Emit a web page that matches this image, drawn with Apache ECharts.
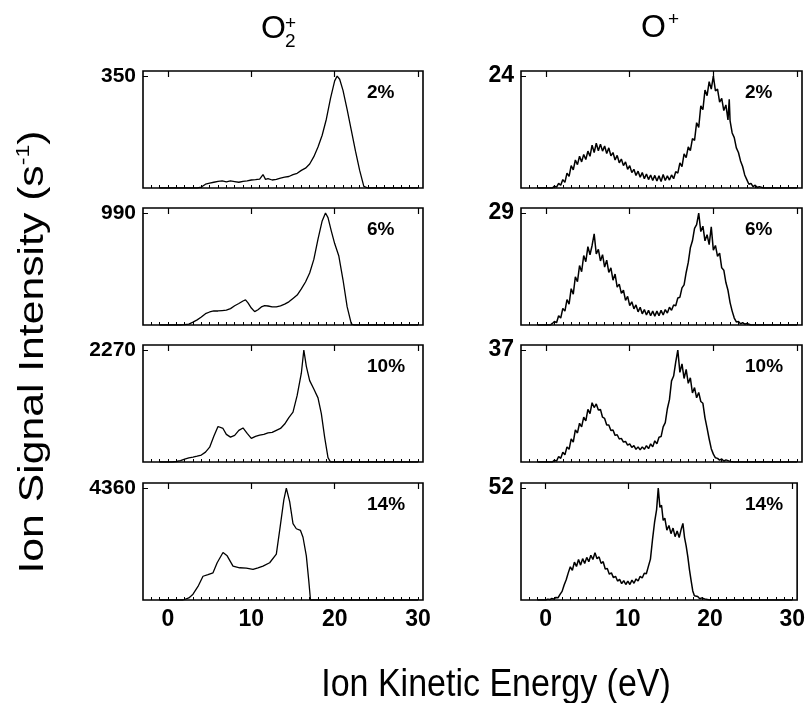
<!DOCTYPE html>
<html>
<head>
<meta charset="utf-8">
<title>Ion kinetic energy distributions</title>
<script src="https://cdn.jsdelivr.net/npm/echarts@6/dist/echarts.min.js"></script>
<style>
  html, body { margin: 0; padding: 0; background: #fff; }
  #chart { width: 808px; height: 703px; }
</style>
</head>
<body>
<div id="chart"></div>
<script>
// energy axis (eV) and labels
var energyMin = -3, energyMax = 30.6;
var energyTicks = [0, 10, 20, 30];
var percents = ['2%', '6%', '10%', '14%'];
var o2Max = [350, 990, 2270, 4360];   // O2+ full scale per panel
var oMax = [24, 29, 37, 52];          // O+ full scale per panel

// O2+ spectra, [energy, counts/s]
var o2_2 = [[-1,0],[3.5,0],[4,3],[4.5,12],[5,15],[5.5,18],[6,21],[6.5,22],[7,19],[7.5,22],[8,20],[8.5,18],[9,21],[9.5,22],[10,25],[10.5,26],[11,28],[11.4,42],[11.7,27],[12,29],[12.5,25],[13,27],[13.5,31],[14,34],[14.5,36],[15,42],[15.5,46],[16,55],[16.5,62],[17,75],[17.5,98],[18,128],[18.5,165],[19,215],[19.5,280],[20,335],[20.3,350],[20.6,340],[21,305],[21.5,245],[22,180],[22.5,115],[23,55],[23.5,5],[24,0],[30,0]];
var o2_6 = [[-1,0],[1.5,0],[2,3],[2.5,8],[3,25],[3.5,45],[4,70],[4.5,100],[5,115],[5.5,125],[6,124],[6.5,128],[7,132],[7.5,145],[8,170],[8.5,190],[9,212],[9.3,222],[9.6,195],[10,150],[10.4,118],[10.8,135],[11.2,160],[11.6,172],[12,168],[12.5,160],[13,160],[13.5,170],[14,185],[14.5,205],[15,235],[15.5,265],[16,320],[16.5,380],[17,460],[17.5,580],[18,760],[18.5,920],[18.9,990],[19.2,950],[19.6,830],[20,720],[20.5,610],[21,400],[21.5,160],[22,10],[22.3,0],[30,0]];
var o2_10 = [[-1,0],[0.5,0],[1,10],[1.5,30],[2,60],[2.5,85],[3,100],[3.5,118],[4,140],[4.5,200],[5,300],[5.5,520],[6,720],[6.2,750],[6.6,680],[7,560],[7.5,505],[8,540],[8.5,640],[9,690],[9.5,580],[10,480],[10.5,520],[11,545],[11.5,560],[12,590],[12.5,600],[13,640],[13.5,680],[14,770],[14.5,900],[15,1010],[15.5,1350],[16,1800],[16.3,2270],[16.6,1940],[17,1650],[17.5,1480],[18,1300],[18.4,980],[18.8,500],[19.2,90],[19.5,0],[30,0]];
var o2_14 = [[-1,0],[1.8,0],[2.5,80],[3,225],[3.6,528],[4.2,925],[4.8,990],[5.4,1060],[5.9,1450],[6.6,1850],[7.1,1720],[7.8,1320],[8.6,1255],[9.4,1240],[10.2,1190],[10.8,1250],[11.4,1320],[12.2,1450],[13,1784],[13.4,2708],[13.9,3898],[14.2,4360],[14.6,3831],[15,2973],[15.4,2775],[15.9,2708],[16.2,2444],[16.6,1718],[16.9,727],[17.1,0],[30,0]];

// O+ spectra, [energy, counts/s]
var o_2 = [[-1,0],[0.75,0],[1,0.4],[1.25,0.2],[1.5,1.0],[1.75,0.6],[2,1.8],[2.25,1.2],[2.5,3.2],[2.75,2.5],[3,4.8],[3.25,3.9],[3.5,6.0],[3.75,5.0],[4,6.8],[4.25,5.6],[4.5,7.2],[4.75,6.1],[5,7.9],[5.25,6.8],[5.5,9.2],[5.75,7.6],[6,9.6],[6.25,8.0],[6.5,9.4],[6.75,7.9],[7,9.0],[7.25,7.4],[7.5,8.6],[7.75,6.9],[8,7.6],[8.25,6.0],[8.5,7.0],[8.75,5.4],[9,6.2],[9.25,4.8],[9.5,5.6],[9.75,4.0],[10,4.8],[10.25,3.3],[10.5,4.0],[10.75,2.7],[11,3.6],[11.25,2.3],[11.5,3.3],[11.75,2.0],[12,3.0],[12.25,1.8],[12.5,2.8],[12.75,1.6],[13,2.7],[13.25,1.5],[13.5,2.6],[13.75,1.4],[14,2.9],[14.25,1.6],[14.5,2.6],[14.75,1.7],[15,2.8],[15.25,2.0],[15.5,3.5],[15.75,3.2],[16,5.4],[16.25,4.6],[16.5,7.3],[16.75,6.5],[17,8.8],[17.25,8.0],[17.5,10.6],[17.75,10.2],[18,14.0],[18.25,13.0],[18.5,17.6],[18.75,16.8],[19,21.0],[19.25,19.8],[19.5,22.8],[19.75,21.2],[20,24.0],[20.25,20.8],[20.5,21.2],[20.75,18.4],[21,19.2],[21.25,16.6],[21.5,17.8],[21.75,14.6],[21.9,19.0],[22,14.4],[22.25,11.8],[22.5,10.8],[22.75,8.6],[23,7.6],[23.25,5.8],[23.5,4.6],[23.75,2.8],[24,1.8],[24.25,0.8],[24.5,1.0],[24.75,0.3],[25,0.6],[25.25,0.1],[25.5,0.3],[26,0],[30,0]];
var o_6 = [[-1,0],[0.5,0],[0.75,0.4],[1,0.9],[1.25,0.6],[1.5,2.4],[1.75,1.8],[2,4.3],[2.25,3.6],[2.5,6.6],[2.75,5.4],[3,9.4],[3.25,8.0],[3.5,12.5],[3.75,11.2],[4,15.4],[4.25,13.8],[4.5,18.0],[4.75,16.4],[5,20.3],[5.25,18.2],[5.5,20.6],[5.75,23.6],[6,18.4],[6.25,19.6],[6.5,16.6],[6.75,18.2],[7,15.0],[7.25,16.8],[7.5,13.6],[7.75,14.8],[8,11.6],[8.25,13.2],[8.5,9.8],[8.75,10.6],[9,8.2],[9.25,9.0],[9.5,6.4],[9.75,7.4],[10,5.0],[10.25,6.0],[10.5,4.2],[10.75,5.2],[11,3.4],[11.25,4.6],[11.5,2.9],[11.75,4.0],[12,2.6],[12.25,3.8],[12.5,2.4],[12.75,3.6],[13,2.3],[13.25,3.6],[13.5,2.4],[13.75,3.8],[14,2.6],[14.25,4.0],[14.5,3.1],[14.75,4.6],[15,3.8],[15.25,5.2],[15.5,5.0],[15.75,7.0],[16,7.2],[16.25,9.6],[16.5,10.4],[16.75,13.6],[17,16.2],[17.25,20.0],[17.5,21.8],[17.75,25.0],[18,26.0],[18.25,29.0],[18.5,24.2],[18.75,25.6],[19,21.8],[19.25,23.4],[19.5,20.8],[19.75,25.4],[20,19.4],[20.25,20.6],[20.5,17.8],[20.75,18.6],[21,14.8],[21.25,14.2],[21.5,11.0],[21.75,9.0],[22,5.8],[22.25,3.6],[22.5,1.8],[22.75,0.8],[23,0.9],[23.25,0.3],[23.5,0.6],[23.75,0.2],[24,0.4],[24.5,0],[30,0]];
var o_10 = [[-1,0],[0.75,0],[1,0.6],[1.25,0.3],[1.5,1.8],[1.75,1.2],[2,3.2],[2.25,2.4],[2.5,5.0],[2.75,4.2],[3,7.6],[3.25,6.6],[3.5,10.6],[3.75,9.6],[4,12.8],[4.25,11.6],[4.5,14.8],[4.75,13.6],[5,17.4],[5.25,16.0],[5.5,19.6],[5.75,18.0],[6,19.2],[6.25,17.2],[6.5,17.4],[6.75,14.8],[7,14.4],[7.25,12.2],[7.5,12.2],[7.75,10.4],[8,10.6],[8.25,8.8],[8.5,9.0],[8.75,7.6],[9,7.8],[9.25,6.6],[9.5,6.8],[9.75,5.6],[10,6.0],[10.25,4.8],[10.5,5.4],[10.75,4.2],[11,5.0],[11.25,4.0],[11.5,5.0],[11.75,4.2],[12,5.4],[12.25,4.4],[12.5,6.0],[12.75,5.0],[13,7.0],[13.25,6.0],[13.5,8.2],[13.75,8.4],[14,11.6],[14.25,13.0],[14.5,17.6],[14.75,20.6],[15,26.8],[15.25,28.4],[15.5,33.0],[15.75,37.0],[16,29.6],[16.25,32.4],[16.5,27.6],[16.75,30.6],[17,26.0],[17.25,27.8],[17.5,22.8],[17.75,24.6],[18,21.2],[18.25,23.0],[18.5,20.0],[18.75,19.4],[19,14.6],[19.25,11.2],[19.5,7.6],[19.75,4.4],[20,2.6],[20.25,1.4],[20.5,1.2],[20.75,0.6],[21,1.0],[21.25,0.3],[21.5,0.7],[22,0.2],[22.5,0],[30,0]];
var o_14 = [[-1,0],[0,0],[0.25,0.4],[0.5,0.2],[0.75,0.7],[1,0.4],[1.25,1.2],[1.5,1.0],[1.75,2.6],[2,4.0],[2.25,7.0],[2.5,9.4],[2.75,12.6],[3,15.4],[3.25,13.8],[3.5,17.6],[3.75,15.6],[4,18.8],[4.25,16.2],[4.5,19.2],[4.75,17.0],[5,19.8],[5.25,17.8],[5.5,20.8],[5.75,18.8],[6,22.0],[6.25,19.2],[6.5,20.0],[6.75,17.0],[7,17.8],[7.25,14.4],[7.5,14.6],[7.75,12.0],[8,12.6],[8.25,10.4],[8.5,11.0],[8.75,8.8],[9,9.6],[9.25,7.6],[9.5,9.0],[9.75,7.2],[10,8.8],[10.25,7.2],[10.5,9.2],[10.75,7.8],[11,9.8],[11.25,8.8],[11.5,11.0],[11.75,10.2],[12,12.4],[12.25,12.2],[12.5,15.6],[12.75,19.0],[13,28.0],[13.25,36.0],[13.5,42.0],[13.7,52.0],[13.9,43.0],[14.1,44.0],[14.3,37.0],[14.5,38.0],[14.75,32.4],[15,34.6],[15.25,30.8],[15.5,33.4],[15.75,29.4],[16,32.0],[16.25,29.0],[16.5,33.0],[16.7,35.6],[16.9,29.0],[17.1,25.0],[17.3,20.0],[17.5,14.0],[17.7,9.0],[17.9,4.2],[18.1,2.0],[18.3,1.2],[18.5,1.6],[18.75,0.6],[19,1.0],[19.5,0.3],[20,0],[30,0]];

var o2Series = [o2_2, o2_6, o2_10, o2_14];
var oSeries = [o_2, o_6, o_10, o_14];

var FONT = '"Liberation Sans", Arial, Helvetica, sans-serif';
var panelTops = [71, 208, 345, 483];
var panelH = 117;
var cols = [{left: 143, width: 280, data: o2Series, max: o2Max, labelSize: 21, lineW: 1.3},
            {left: 521, width: 281, data: oSeries, max: oMax, labelSize: 23, lineW: 1.5}];

var minorTicks = [];
for (var t = -2; t <= 30; t++) minorTicks.push(t);

var grids = [], xAxes = [], yAxes = [], series = [], graphics = [];

cols.forEach(function(col, c) {
  panelTops.forEach(function(top, r) {
    var gi = grids.length;
    var fullScale = col.max[r];
    var isBottom = r === panelTops.length - 1;
    grids.push({
      left: col.left, top: top, width: col.width, height: panelH,
      show: true, borderColor: '#000', borderWidth: 1.6, backgroundColor: '#fff'
    });
    // minor ticks every 1 eV + tick labels on the bottom row
    xAxes.push({
      gridIndex: gi, type: 'value', min: energyMin, max: energyMax,
      axisLine: {show: false, onZero: false},
      axisTick: {show: true, inside: true, length: 3, customValues: minorTicks,
        lineStyle: {color: '#000', width: 1}},
      axisLabel: {show: isBottom, customValues: energyTicks, margin: 8,
        color: '#000', fontSize: 23, fontWeight: 'bold', fontFamily: FONT},
      splitLine: {show: false}
    });
    // longer major ticks
    xAxes.push({
      gridIndex: gi, type: 'value', min: energyMin, max: energyMax,
      axisLine: {show: false, onZero: false},
      axisTick: {show: true, inside: true, length: 6, customValues: energyTicks,
        lineStyle: {color: '#000', width: 1.2}},
      axisLabel: {show: false},
      splitLine: {show: false}
    });
    yAxes.push({
      gridIndex: gi, type: 'value', min: 0, max: fullScale * 1.045,
      axisLine: {show: false, onZero: false},
      axisTick: {show: true, inside: true, length: 5, customValues: [fullScale],
        lineStyle: {color: '#000'}},
      axisLabel: {customValues: [fullScale], margin: 7, color: '#000',
        fontSize: col.labelSize, fontWeight: 'bold', fontFamily: FONT,
        formatter: function(v) { return String(v); }},
      splitLine: {show: false}
    });
    series.push({
      type: 'line', xAxisIndex: xAxes.length - 2, yAxisIndex: gi,
      data: col.data[r], showSymbol: false, symbol: 'none',
      lineStyle: {color: '#000', width: col.lineW}, animation: false
    });
    graphics.push({
      type: 'text', left: col.left + 224, top: top + 12,
      style: {text: percents[r], fill: '#000', font: 'bold 19px ' + FONT}
    });
  });
});

// column headings O2+ and O+
graphics.push(
  {type: 'text', left: 261, top: 13, style: {text: 'O', fill: '#000', font: '32px ' + FONT}},
  {type: 'text', left: 285, top: 14, style: {text: '+', fill: '#000', font: '19px ' + FONT}},
  {type: 'text', left: 285, top: 32, style: {text: '2', fill: '#000', font: '19px ' + FONT}},
  {type: 'text', left: 641, top: 12, style: {text: 'O', fill: '#000', font: '32px ' + FONT}},
  {type: 'text', left: 668, top: 10, style: {text: '+', fill: '#000', font: '19px ' + FONT}}
);
// axis titles (scan is slightly stretched vertically, so stretch the text a bit)
graphics.push({
  type: 'text', x: 496, y: 685, scaleY: 1.15,
  style: {text: 'Ion Kinetic Energy (eV)', fill: '#000', font: '34px ' + FONT,
    align: 'center', verticalAlign: 'middle'}
});
graphics.push({
  type: 'text', x: 33, y: 352, rotation: Math.PI / 2, scaleX: 1.22,
  style: {
    text: '{a|Ion Signal Intensity (s}{b|-1}{a|)}',
    align: 'center', verticalAlign: 'middle', fill: '#000',
    rich: {
      a: {font: '35px ' + FONT, fill: '#000', lineHeight: 42},
      b: {font: '19px ' + FONT, fill: '#000', lineHeight: 42, padding: [0, 0, 18, 0]}
    }
  }
});

var chart = echarts.init(document.getElementById('chart'), null, {renderer: 'canvas'});
chart.setOption({
  animation: false,
  backgroundColor: '#fff',
  grid: grids,
  xAxis: xAxes,
  yAxis: yAxes,
  series: series,
  graphic: graphics
});
window.addEventListener('resize', function() {
  chart.resize();
});
</script>
</body>
</html>
